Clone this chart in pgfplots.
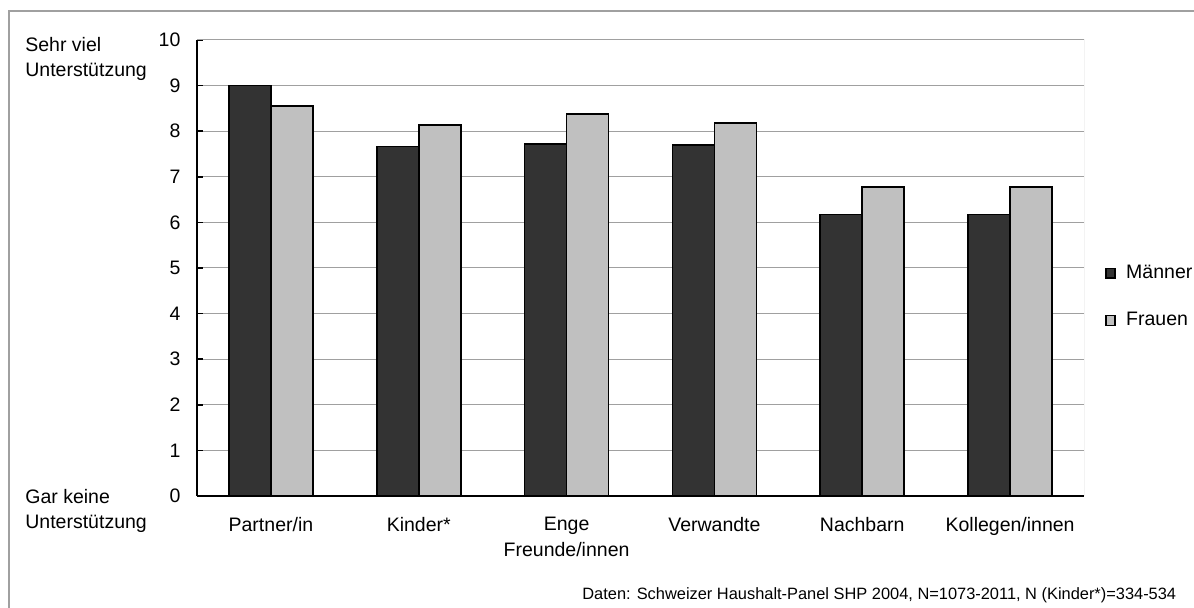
\documentclass[border=0pt]{standalone}
\usepackage{fontspec}
\setmainfont{Liberation Sans}
\usepackage{pgfplots}
\pgfplotsset{compat=1.18}
\definecolor{dark}{HTML}{333333}
\definecolor{light}{HTML}{C0C0C0}
\definecolor{framegray}{HTML}{A0A0A0}
\definecolor{gridgray}{HTML}{A0A0A0}
\newcommand{\lbl}{\fontsize{9.75pt}{13pt}\selectfont}
\newcommand{\foot}{\fontsize{8.2pt}{10pt}\selectfont}
\begin{document}
\begin{tikzpicture}[x=1pt,y=1pt]
\useasboundingbox (0,0) rectangle (597,304);
\draw[framegray, line width=1pt] (4.5,-5) -- (4.5,298.5) -- (610,298.5);
\begin{axis}[
  at={(98.5pt,56pt)}, anchor=south west,
  scale only axis, width=443.5pt, height=228pt,
  ybar=0pt, bar width=21pt,
  xmin=-0.5, xmax=5.5, ymin=0, ymax=10,
  xtick=data,
  xticklabels={Partner/in, Kinder*, {Enge\\Freunde/innen}, Verwandte, Nachbarn, Kollegen/innen},
  ytick={0,1,...,10},
  ymajorgrids, grid style={gridgray, line width=0.5pt},
  axis x line*=bottom, axis y line*=left,
  axis line style={black, line width=0.75pt},
  tick align=inside, major tick length=3pt,
  xtick style={draw=none},
  ytick style={black, line width=0.75pt},
  ticklabel style={font=\lbl},
  /pgf/number format/assume math mode=true,
  yticklabel style={xshift=-4.75pt},
  xticklabel style={align=center, yshift=-7pt},
  legend style={draw=none, fill=none, at={(1.0237,0.4364)}, anchor=west,
    font=\lbl, row sep=11.5pt, inner sep=0pt, cells={anchor=west},
    /tikz/every odd column/.append style={column sep=3.3pt}},
]
\addplot[fill=dark, draw=black, line width=0.8pt,
  legend image code/.code={\draw[fill=dark, draw=black, line width=0.6pt] (0pt,-2.4pt) rectangle (4.5pt,2.4pt);}]
  coordinates {(0,9.0) (1,7.66) (2,7.72) (3,7.70) (4,6.17) (5,6.17)};
\addplot[fill=light, draw=black, line width=0.8pt,
  legend image code/.code={\draw[fill=light, draw=black, line width=0.6pt] (0pt,-2.4pt) rectangle (4.5pt,2.4pt);}]
  coordinates {(0,8.55) (1,8.14) (2,8.38) (3,8.18) (4,6.78) (5,6.78)};
\legend{Männer, Frauen}
\draw[gridgray, line width=0.5pt] (rel axis cs:0,1) -- (rel axis cs:1,1) -- (rel axis cs:1,0);
\end{axis}
\node[anchor=base west, inner sep=0pt, font=\lbl] at (12.5,278) {Sehr viel};
\node[anchor=base west, inner sep=0pt, font=\lbl] at (12.5,265.5) {Unterstützung};
\node[anchor=base west, inner sep=0pt, font=\lbl] at (12.5,52) {Gar keine};
\node[anchor=base west, inner sep=0pt, font=\lbl] at (12.5,39.5) {Unterstützung};
\node[anchor=base west, inner sep=0pt, font=\foot] at (291,4) {Daten: Schweizer Haushalt-Panel SHP 2004, N=1073-2011, N (Kinder*)=334-534};
\end{tikzpicture}
\end{document}
